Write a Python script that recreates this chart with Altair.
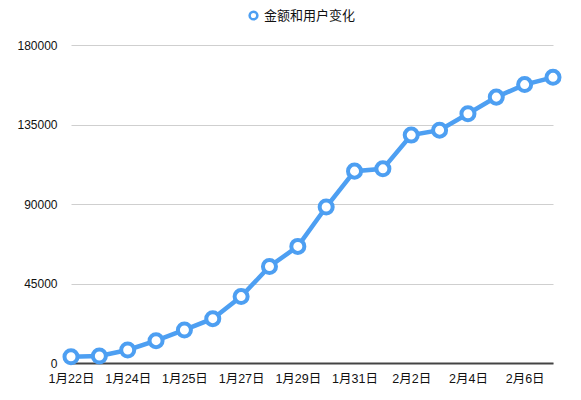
import altair as alt
import pandas as pd

dates = ["1月22日", "1月23日", "1月24日", "1月24日", "1月25日", "1月26日", "1月27日", "1月28日",
         "1月29日", "1月30日", "1月31日", "2月1日", "2月2日", "2月3日", "2月4日", "2月5日",
         "2月6日", "2月7日"]
# Displayed tick labels (every other point), as in the reference
tick_labels = ["1月22日", "1月24日", "1月25日", "1月27日", "1月29日", "1月31日", "2月2日", "2月4日", "2月6日"]
values = [3570, 3970, 7380, 12650, 18700, 25100, 37600, 54600, 66000, 88300,
          108600, 109900, 129000, 131800, 141100, 150500, 157600, 161700]
series = "金额和用户变化"

df = pd.DataFrame({
    "idx": list(range(len(values))),
    "date": dates,
    "value": values,
    "series": [series] * len(values),
})

label_expr = "[" + ",".join(f"'{t}'" for t in tick_labels) + "][datum.value / 2]"

blue = "#4d9ff2"
FONT = "Liberation Sans, Noto Sans CJK SC"

x = alt.X("idx:Q",
          scale=alt.Scale(domain=[0, len(values) - 1], nice=False, zero=False),
          axis=alt.Axis(values=list(range(0, len(values), 2)), labelExpr=label_expr,
                        labelOverlap=False, labelBound=False, labelFlush=False,
                        title=None, grid=False, ticks=False, domain=True,
                        domainColor="#444444", domainWidth=2, labelPadding=9,
                        labelFontSize=12.5, labelColor="#111111", labelFont=FONT))
y = alt.Y("value:Q",
          scale=alt.Scale(domain=[0, 180000], nice=False),
          axis=alt.Axis(values=[0, 45000, 90000, 135000, 180000], format="d",
                        title=None, domain=False, ticks=False, grid=True,
                        gridColor="#cfcfcf", gridWidth=1, labelPadding=14,
                        labelFontSize=12, labelColor="#111111", labelFont=FONT))
color = alt.Color("series:N",
                  scale=alt.Scale(range=[blue]),
                  legend=alt.Legend(title=None, orient="none", legendX=176, legendY=-36,
                                    symbolType="circle", symbolSize=60,
                                    symbolFillColor="white", symbolStrokeColor=blue,
                                    symbolStrokeWidth=2.5, labelFontSize=13,
                                    labelFont=FONT, labelColor="#111111"))

base = alt.Chart(df).encode(x=x, y=y, color=color)
line = base.mark_line(strokeWidth=4.5, clip=False)
points = base.mark_point(filled=False, shape="circle", size=170, strokeWidth=4,
                         fill="white", fillOpacity=1, opacity=1, clip=False)

chart = alt.layer(line, points).properties(
    width=482, height=318,
    autosize=alt.AutoSizeParams(type="none"),
    padding={"left": 63, "top": 37, "right": 20, "bottom": 29},
).configure(background="white").configure_view(stroke="transparent", strokeWidth=0)

chart.save("out.html", embed_options={"renderer": "svg", "actions": False})
